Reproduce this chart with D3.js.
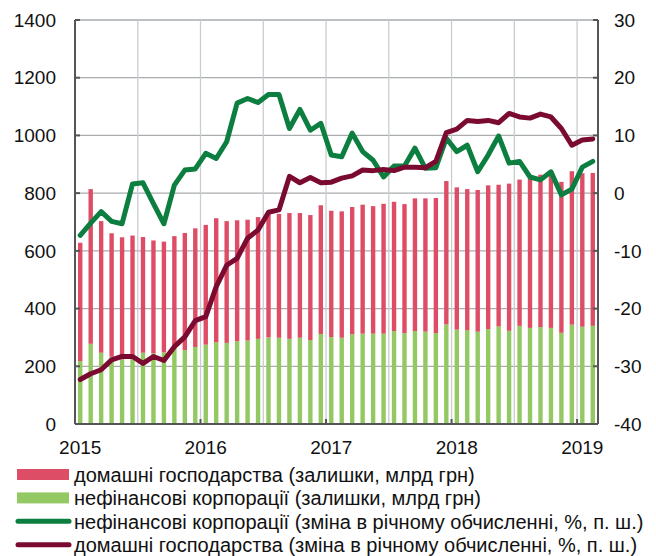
<!DOCTYPE html>
<html>
<head>
<meta charset="utf-8">
<script src="https://cdn.jsdelivr.net/npm/d3@7"></script>
<style>
  body { margin: 0; background: #fff; }
  text { font-family: "Liberation Sans", Arial, sans-serif; }
</style>
</head>
<body>
<svg id="main" width="656" height="556"></svg>
<script>
// monthly, Jan 2015 .. Feb 2019
var months = d3.range(50).map(function(i) { return new Date(2015, i, 1) })

// stocks, bn UAH (stacked: corporations at bottom, households on top)
var corp = [218, 278, 247, 233, 224, 225, 247, 245, 248, 262, 256, 267,
            275, 283, 281, 287, 289, 295, 300, 299, 295, 299, 291, 312,
            301, 299, 311, 313, 313, 313, 322, 315, 322, 320, 315, 345,
            327, 325, 320, 329, 338, 323, 340, 333, 336, 333, 316, 344,
            337, 340]
var households = [410, 536, 456, 428, 423, 428, 401, 391, 384, 389, 406, 411,
                  415, 430, 422, 419, 419, 422, 427, 429, 436, 432, 433, 446,
                  438, 438, 441, 447, 442, 450, 448, 447, 460, 462, 468, 497,
                  493, 489, 491, 498, 491, 510, 507, 518, 528, 527, 523, 532,
                  532, 530]

// yoy change, %, right axis
var corpYoy = [-7.3, -5.2, -3.2, -4.9, -5.3, 1.6, 1.8, -1.8, -5.3, 1.4, 4.0, 4.2,
               6.9, 6.0, 8.9, 15.6, 16.4, 15.7, 17.1, 17.1, 11.2, 14.5, 10.9, 12.1,
               6.6, 6.3, 10.4, 7.2, 5.7, 2.8, 4.7, 4.7, 7.8, 4.3, 4.4, 9.5,
               7.2, 8.3, 3.7, 6.6, 9.9, 5.2, 5.5, 2.8, 2.3, 3.7, -0.3, 0.7,
               4.5, 5.5]
var householdsYoy = [-32.3, -31.3, -30.6, -28.9, -28.3, -28.3, -29.5, -28.3, -29.0, -26.6, -24.9, -22.1,
                     -21.4, -16.2, -12.5, -11.3, -7.8, -6.4, -3.3, -2.9, 2.9, 1.8, 2.7, 1.8,
                     1.9, 2.6, 3.0, 4.0, 3.9, 4.1, 3.9, 4.5, 4.5, 4.4, 5.5, 10.5,
                     11.1, 12.6, 12.4, 12.6, 12.2, 13.8, 13.2, 13.0, 13.7, 13.2, 11.2, 8.3,
                     9.2, 9.4]

var leftTicks = [0, 200, 400, 600, 800, 1000, 1200, 1400]
var rightTicks = [-40, -30, -20, -10, 0, 10, 20, 30]
var yearLabels = ["2015", "2016", "2017", "2018", "2019"]

var legendItems = [
  { label: "домашні господарства (залишки, млрд грн)", color: "#de4d66", type: "bar" },
  { label: "нефінансові корпорації (залишки, млрд грн)", color: "#93c862", type: "bar" },
  { label: "нефінансові корпорації (зміна в річному обчисленні, %, п. ш.)", color: "#0b7e40", type: "line" },
  { label: "домашні господарства (зміна в річному обчисленні, %, п. ш.)", color: "#7b0a30", type: "line" }
]

var svg = d3.select('#main')
var pLeft = 75, pRight = 598, pTop = 20, pBottom = 424

var x = d3.scaleBand().domain(d3.range(months.length)).range([pLeft, pRight]).padding(0)
var y = d3.scaleLinear().domain([0, 1400]).range([pBottom, pTop])
var y2 = d3.scaleLinear().domain([-40, 30]).range([pBottom, pTop])
var bw = x.bandwidth() * 0.42

// horizontal grid
svg.append('g').selectAll('line').data(leftTicks.slice(1)).enter().append('line')
  .attr('x1', pLeft).attr('x2', pRight)
  .attr('y1', function(d) { return y(d) }).attr('y2', function(d) { return y(d) })
  .attr('stroke', '#a9adb0').attr('stroke-width', 1.3)

// vertical grid every half year
svg.append('g').selectAll('line').data(d3.range(6, months.length, 6)).enter().append('line')
  .attr('x1', function(d) { return x(d) }).attr('x2', function(d) { return x(d) })
  .attr('y1', pTop).attr('y2', pBottom)
  .attr('stroke', '#c9cdd0').attr('stroke-width', 1.3)

// bars
var barG = svg.append('g')
barG.selectAll('rect.c').data(corp).enter().append('rect')
  .attr('x', function(d, i) { return x(i) + (x.bandwidth() - bw) / 2 })
  .attr('width', bw)
  .attr('y', function(d) { return y(d) })
  .attr('height', function(d) { return y(0) - y(d) })
  .attr('fill', '#93c862')
barG.selectAll('rect.h').data(households).enter().append('rect')
  .attr('x', function(d, i) { return x(i) + (x.bandwidth() - bw) / 2 })
  .attr('width', bw)
  .attr('y', function(d, i) { return y(d + corp[i]) })
  .attr('height', function(d, i) { return y(corp[i]) - y(d + corp[i]) })
  .attr('fill', '#de4d66')

// lines
var line = d3.line()
  .x(function(d, i) { return x(i) + x.bandwidth() / 2 })
  .y(function(d) { return y2(d) })
svg.append('path').datum(corpYoy).attr('d', line)
  .attr('fill', 'none').attr('stroke', '#0b7e40').attr('stroke-width', 5)
  .attr('stroke-linejoin', 'round').attr('stroke-linecap', 'round')
svg.append('path').datum(householdsYoy).attr('d', line)
  .attr('fill', 'none').attr('stroke', '#7b0a30').attr('stroke-width', 5)
  .attr('stroke-linejoin', 'round').attr('stroke-linecap', 'round')

// axes
var axisColor = '#555'
svg.append('line').attr('x1', pLeft).attr('x2', pLeft).attr('y1', pTop).attr('y2', pBottom)
  .attr('stroke', axisColor).attr('stroke-width', 2)
svg.append('line').attr('x1', pRight).attr('x2', pRight).attr('y1', pTop).attr('y2', pBottom)
  .attr('stroke', axisColor).attr('stroke-width', 2)
svg.append('line').attr('x1', pLeft).attr('x2', pRight).attr('y1', pBottom).attr('y2', pBottom)
  .attr('stroke', axisColor).attr('stroke-width', 2)

svg.append('g').selectAll('line').data(leftTicks).enter().append('line')
  .attr('x1', pLeft).attr('x2', pLeft + 5)
  .attr('y1', function(d) { return y(d) }).attr('y2', function(d) { return y(d) })
  .attr('stroke', axisColor).attr('stroke-width', 2)
svg.append('g').selectAll('line').data(rightTicks).enter().append('line')
  .attr('x1', pRight - 5).attr('x2', pRight)
  .attr('y1', function(d) { return y2(d) }).attr('y2', function(d) { return y2(d) })
  .attr('stroke', axisColor).attr('stroke-width', 2)
svg.append('g').selectAll('line').data(d3.range(12, months.length, 12)).enter().append('line')
  .attr('x1', function(d) { return x(d) }).attr('x2', function(d) { return x(d) })
  .attr('y1', pBottom - 5).attr('y2', pBottom)
  .attr('stroke', axisColor).attr('stroke-width', 2)

svg.append('g').selectAll('text').data(leftTicks).enter().append('text')
  .attr('x', 56).attr('y', function(d) { return y(d) })
  .attr('dy', '0.35em').attr('text-anchor', 'end')
  .style('font-size', '19px').attr('fill', '#111')
  .text(function(d) { return d })
svg.append('g').selectAll('text').data(rightTicks).enter().append('text')
  .attr('x', 614).attr('y', function(d) { return y2(d) })
  .attr('dy', '0.35em').attr('text-anchor', 'start')
  .style('font-size', '19px').attr('fill', '#111')
  .text(function(d) { return d })
svg.append('g').selectAll('text').data(yearLabels).enter().append('text')
  .attr('x', function(d, i) { return x(i * 12) + x.bandwidth() / 2 })
  .attr('y', 454).attr('text-anchor', 'middle')
  .style('font-size', '19px').attr('fill', '#111')
  .text(function(d) { return d })

// legend
var lg = svg.append('g').selectAll('g').data(legendItems).enter().append('g')
  .attr('transform', function(d, i) { return 'translate(0,' + (474.5 + i * 23.4) + ')' })
lg.filter(function(d) { return d.type === 'bar' }).append('rect')
  .attr('x', 17).attr('y', -5.5).attr('width', 52).attr('height', 11)
  .attr('fill', function(d) { return d.color })
lg.filter(function(d) { return d.type === 'line' }).append('line')
  .attr('x1', 18).attr('x2', 69).attr('y1', 0).attr('y2', 0)
  .attr('stroke', function(d) { return d.color }).attr('stroke-width', 5)
  .attr('stroke-linecap', 'round')
lg.append('text')
  .attr('x', 74).attr('y', 7.5)
  .style('font-size', '20px').attr('fill', '#111')
  .text(function(d) { return d.label })
</script>
</body>
</html>
